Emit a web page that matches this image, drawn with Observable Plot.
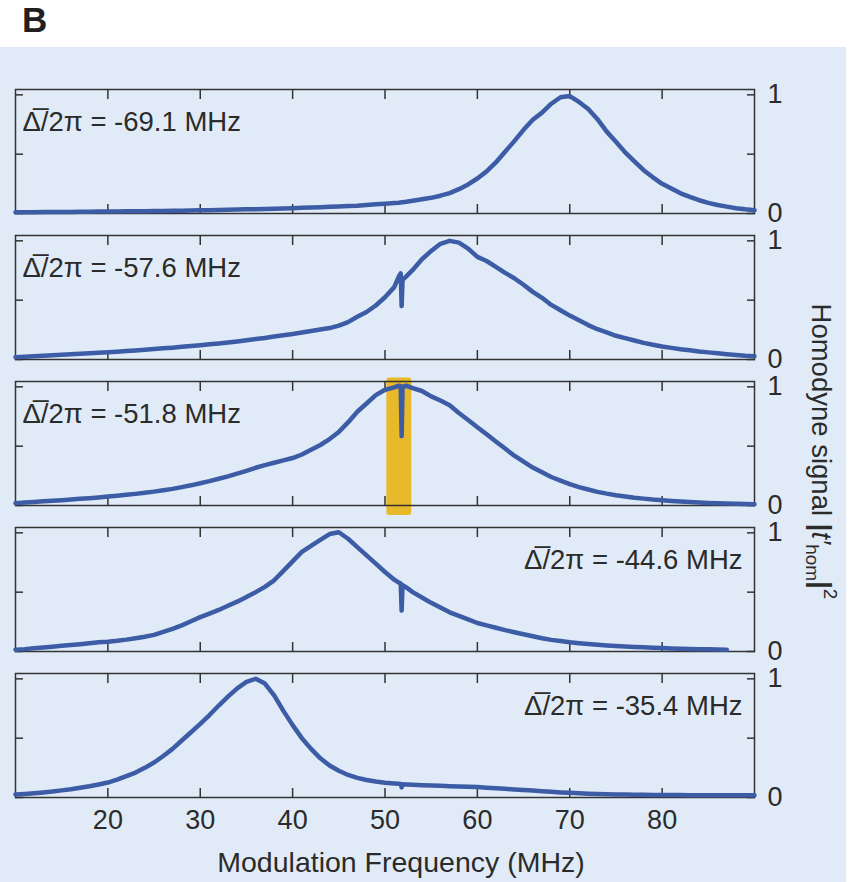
<!DOCTYPE html>
<html><head><meta charset="utf-8">
<script src="https://cdn.jsdelivr.net/npm/d3@7"></script>
<script src="https://cdn.jsdelivr.net/npm/@observablehq/plot@0.6"></script>
<style>
html,body{margin:0;padding:0;background:#fff;}
#wrap{position:relative;width:850px;height:882px;font-family:"Liberation Sans",Arial,Helvetica,sans-serif;}
#letter{position:absolute;left:22px;top:2px;font-weight:bold;font-size:35px;line-height:35px;color:#231f20;}
#panel{position:absolute;left:0;top:47px;width:846px;height:835px;background:#e1ebf7;}
</style></head><body>
<div id="wrap"><div id="letter">B</div><div id="panel"></div></div>
<script>
// Detuning of each panel (MHz), top to bottom
const panels = ["-69.1", "-57.6", "-51.8", "-44.6", "-35.4"];
const labelSide = ["left", "left", "left", "right", "right"];

// Modulation frequency samples (MHz)
const freq = [10,11,12,13,14,15,16,17,18,19,20,21,22,23,24,25,26,27,28,29,
  30,31,32,33,34,35,36,37,38,39,40,41,42,43,44,45,46,47,48,49,50,51,
  51.5,51.7,51.8,51.9,52.3,
  53,54,55,56,57,58,59,60,61,62,63,64,65,66,67,68,69,70,71,72,
  73,74,75,76,77,78,79,80,81,82,83,84,85,86,87,88,89,90];

// Homodyne signal |t'_hom|^2
const sig691 = [0.010,0.010,0.011,0.012,0.012,0.013,0.013,0.014,0.015,0.016,
  0.016,0.017,0.018,0.019,0.020,0.021,0.022,0.023,0.024,0.026,
  0.027,0.028,0.030,0.031,0.033,0.035,0.036,0.038,0.041,0.043,
  0.045,0.048,0.050,0.053,0.056,0.060,0.063,0.066,0.072,0.078,
  0.083,0.088,
  0.091,0.093,0.094,0.095,0.099,
  0.108,0.120,0.132,0.150,0.172,0.205,0.245,0.295,0.355,0.430,
  0.520,0.610,0.705,0.790,0.850,0.925,0.980,0.990,0.940,0.880,
  0.795,0.690,0.605,0.515,0.440,0.365,0.305,0.250,0.210,0.170,
  0.140,0.112,0.090,0.072,0.058,0.045,0.035,0.028];
const sig576 = [0.020,0.024,0.028,0.032,0.036,0.040,0.044,0.048,0.052,0.057,
  0.062,0.066,0.071,0.076,0.082,0.088,0.094,0.100,0.107,0.114,
  0.121,0.128,0.135,0.143,0.152,0.162,0.172,0.182,0.193,0.204,
  0.215,0.227,0.240,0.252,0.265,0.285,0.315,0.360,0.400,0.455,
  0.525,0.610,
  0.700,0.725,0.450,0.670,0.700,
  0.755,0.845,0.915,0.975,1.000,0.985,0.935,0.865,0.830,0.780,
  0.730,0.685,0.630,0.570,0.520,0.460,0.415,0.370,0.330,0.290,
  0.255,0.228,0.200,0.180,0.160,0.140,0.125,0.110,0.098,0.087,
  0.078,0.068,0.060,0.052,0.045,0.038,0.032,0.028];
const sig518 = [0.020,0.025,0.030,0.035,0.040,0.045,0.050,0.056,0.062,0.068,
  0.075,0.082,0.090,0.098,0.107,0.117,0.128,0.140,0.155,0.170,
  0.188,0.205,0.225,0.245,0.268,0.292,0.318,0.340,0.360,0.380,
  0.400,0.430,0.470,0.510,0.560,0.620,0.700,0.790,0.860,0.930,
  0.975,0.995,
  1.010,1.005,0.585,1.000,1.010,
  0.990,0.965,0.920,0.885,0.845,0.780,0.720,0.660,0.600,0.540,
  0.480,0.420,0.370,0.320,0.280,0.240,0.210,0.180,0.155,0.135,
  0.115,0.100,0.087,0.076,0.066,0.058,0.050,0.044,0.038,0.033,
  0.029,0.025,0.022,0.019,0.016,0.014,0.012,0.010];
const sig446 = [0.015,0.020,0.027,0.034,0.041,0.048,0.055,0.062,0.070,0.078,
  0.082,0.090,0.100,0.112,0.125,0.140,0.165,0.190,0.220,0.255,
  0.290,0.320,0.350,0.385,0.420,0.460,0.500,0.545,0.600,0.680,
  0.760,0.840,0.890,0.940,0.990,1.005,0.950,0.880,0.810,0.740,
  0.670,0.605,
  0.580,0.575,0.345,0.560,0.540,
  0.500,0.455,0.410,0.370,0.330,0.300,0.270,0.240,0.220,0.200,
  0.180,0.162,0.145,0.128,0.112,0.098,0.088,0.078,0.070,0.063,
  0.057,0.051,0.046,0.042,0.038,0.035,0.032,0.029,0.026,0.024,
  0.022,0.020,0.018,0.016,0.015,null,null,null];
const sig354 = [0.025,0.030,0.036,0.043,0.050,0.060,0.070,0.082,0.095,0.110,
  0.126,0.150,0.180,0.210,0.250,0.295,0.350,0.410,0.480,0.550,
  0.620,0.695,0.775,0.850,0.920,0.975,1.000,0.960,0.860,0.730,
  0.610,0.500,0.410,0.330,0.270,0.225,0.190,0.165,0.148,0.135,
  0.125,0.118,
  0.115,0.113,0.085,0.111,0.110,
  0.107,0.104,0.101,0.098,0.095,0.093,0.090,0.088,0.083,0.078,
  0.073,0.068,0.063,0.058,0.053,0.048,0.043,0.039,0.035,0.032,
  0.030,0.028,0.026,0.025,0.024,0.023,0.022,0.022,0.021,0.021,
  0.020,0.020,0.020,0.020,0.020,0.020,0.020,0.020];

const xTicks = [20, 30, 40, 50, 60, 70, 80];
const yTicks = [0, 0.5, 1];

// Highlighted band (panel, frequency range, signal range)
const highlightPanel = ["-51.8"];
const highlightFreq = [50.2, 52.9];
const highlightSignal = [-0.085, 1.075];

const xTitle = "Modulation Frequency (MHz)";
const yTitle = "Homodyne signal |t′hom|2";

const series = [sig691, sig576, sig518, sig446, sig354];
const rows = panels.flatMap((p, i) => freq.map((f, j) => ({panel: p, f, v: series[i][j]})));
const labels = panels.map((p, i) => ({panel: p, side: labelSide[i], label: "Δ\u0305/2π = " + p + " MHz"}));
const hl = highlightPanel.map(p => ({panel: p, f1: highlightFreq[0], f2: highlightFreq[1], v1: highlightSignal[0], v2: highlightSignal[1]}));

const ink = "#2b2b2b";
const chart = Plot.plot({
  width: 846, height: 835,
  marginTop: 42, marginBottom: 85, marginLeft: 15, marginRight: 92,
  style: {background: "transparent", fontFamily: "'Liberation Sans', Arial, Helvetica, sans-serif", fontSize: "27px", color: ink, overflow: "visible"},
  x: {domain: [10, 90]},
  y: {domain: [0, 1.045]},
  fy: {domain: panels, padding: 0.151, axis: null, label: null},
  marks: [
    Plot.rect(hl, {x1: "f1", x2: "f2", y1: "v1", y2: "v2", fy: "panel", fill: "#e8b92a", rx: 3}),
    Plot.frame({stroke: "#333", strokeWidth: 1.5}),
    Plot.axisX({anchor: "top", ticks: xTicks, tickSize: -9, facetAnchor: null, fill: "none", label: null, stroke: "#333", strokeWidth: 1.5}),
    Plot.axisX({anchor: "bottom", ticks: xTicks, tickSize: -9, facetAnchor: null, fill: "none", label: null, stroke: "#333", strokeWidth: 1.5}),
    Plot.axisX({anchor: "bottom", ticks: xTicks, tickSize: 0, tickPadding: 12, fontSize: 27, label: null}),
    Plot.axisY({anchor: "left", ticks: yTicks, tickSize: -8, fill: "none", label: null, stroke: "#333", strokeWidth: 1.5}),
    Plot.axisY({anchor: "right", ticks: yTicks, tickSize: -8, tickPadding: 21, tickFormat: d => d === 0.5 ? "" : String(d), fontSize: 27, label: null, stroke: "#333", strokeWidth: 1.5}),
    Plot.line(rows, {x: "f", y: "v", fy: "panel", stroke: "#3d5ca6", strokeWidth: 4.5, strokeLinejoin: "round", strokeLinecap: "round"}),
    Plot.text(labels.filter(d => d.side === "left"), {fy: "panel", text: "label", frameAnchor: "top-left", textAnchor: "start", lineAnchor: "top", dx: 7, dy: 22, fontSize: 27.5}),
    Plot.text(labels.filter(d => d.side === "right"), {fy: "panel", text: "label", frameAnchor: "top-right", textAnchor: "end", lineAnchor: "top", dx: -12, dy: 22, fontSize: 27.5}),
    Plot.text([{panel: panels[4], t: xTitle}], {fy: "panel", text: "t", frameAnchor: "bottom", lineAnchor: "top", dx: 16, dy: 54, fontSize: 28.5}),
    Plot.text([{panel: panels[2], t: yTitle}], {fy: "panel", text: "t", frameAnchor: "right", textAnchor: "middle", rotate: 90, dx: 66, dy: 8, fontSize: 27.5})
  ]
});

d3.select(chart).selectAll("text").filter(function () { return this.textContent === yTitle; }).each(function () {
  const t = d3.select(this);
  t.text(null);
  t.append("tspan").text("Homodyne signal ");
  t.append("tspan").attr("font-weight", "bold").text("|");
  t.append("tspan").attr("font-style", "italic").text("t′");
  t.append("tspan").attr("font-size", 19).attr("dy", 6).text("hom");
  t.append("tspan").attr("font-weight", "bold").attr("dy", -6).text("|");
  t.append("tspan").attr("font-size", 19).attr("dy", -12).text("2");
});

document.getElementById("panel").appendChild(chart);
</script>
</body></html>
